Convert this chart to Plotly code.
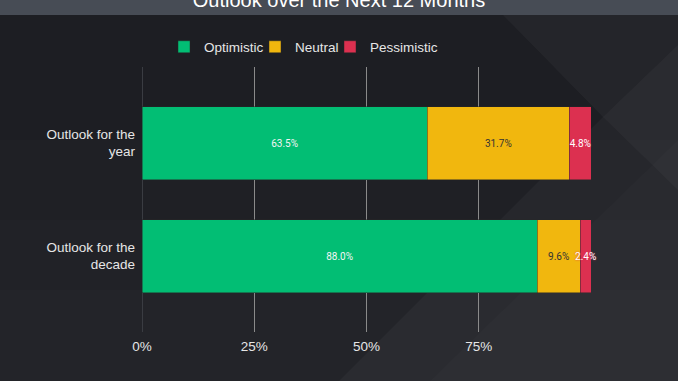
import plotly.graph_objects as go

# ---- data ----
categories = ["Outlook for the<br>year", "Outlook for the<br>decade"]
optimistic = [63.5, 88.0]
neutral = [31.7, 9.6]
pessimistic = [4.8, 2.4]
series_names = ["Optimistic", "Neutral", "Pessimistic"]
tick_vals = [0, 25, 50, 75, 100]
tick_text = ["0%", "25%", "50%", "75%", ""]
title_text = "Outlook over the Next 12 Months"

# ---- layout geometry (pixels) ----
W, H = 678, 381
L, R, T, B = 142, 591, 67, 332


def px(x):
    return (x - L) / (R - L)


def py(y):
    return (B - y) / (B - T)


def poly(points, color):
    d = "M " + " L ".join(f"{px(x):.4f},{py(y):.4f}" for x, y in points) + " Z"
    return dict(type="path", xref="paper", yref="paper", path=d,
                fillcolor=color, line=dict(width=0), layer="below")


shapes = [
    # vertical shading (fake gradient)
    poly([(0, 140), (W, 140), (W, H), (0, H)], "rgba(255,255,255,0.012)"),
    poly([(0, 220), (W, 220), (W, H), (0, H)], "rgba(255,255,255,0.012)"),
    poly([(0, 290), (W, 290), (W, H), (0, H)], "rgba(255,255,255,0.012)"),
    # large lighter region on the right
    poly([(503, 15), (W, 15), (W, H), (339, H), (603, 117)], "rgba(255,255,255,0.035)"),
    # chevron / diamond on the right
    poly([(603, 117), (W, 45), (W, 190)], "rgba(255,255,255,0.03)"),
    poly([(430, H), (W, 140), (W, H)], "rgba(255,255,255,0.015)"),
    # title bar
    poly([(0, -5), (W, -5), (W, 15), (0, 15)], "#474c55"),
]

colors = ["#02BE74", "#F1B70E", "#DC3050"]
label_colors = ["#f4f4f4", "#333333", "#ffffff"]
legend_ids = ["legend", "legend2", "legend3"]
legend_x = [182, 273, 348]  # symbol centres (px)

fig = go.Figure()
for name, vals, col, lcol, lid in zip(series_names, [optimistic, neutral, pessimistic],
                                      colors, label_colors, legend_ids):
    tf = dict(family="Roboto, Arial", size=10, color=lcol)
    if name == "Pessimistic":
        tf["shadow"] = "0px 0px 2px #e0305a"
    fig.add_trace(go.Bar(
        y=categories, x=vals, name=name, orientation="h", legend=lid,
        marker=dict(color=col, line=dict(color="rgba(40,40,40,0.6)", width=0.8)),
        texttemplate="%{x:.1f}%", textposition="inside", insidetextanchor="middle",
        textangle=0, constraintext="none", insidetextfont=tf, cliponaxis=False,
        hoverinfo="skip",
    ))

legend_common = dict(orientation="h", xref="container", yref="container",
                     xanchor="left", y=1 - 47 / H, yanchor="middle",
                     font=dict(size=13.5, color="#e6e6e6"), bgcolor="rgba(0,0,0,0)",
                     itemclick=False)
legends = {}
for lid, sx in zip(legend_ids, legend_x):
    legends[lid] = dict(legend_common, x=(sx - 18) / W)

fig.update_layout(
    width=W, height=H,
    barmode="stack", bargap=0.354,
    paper_bgcolor="#1d1e23", plot_bgcolor="rgba(0,0,0,0)",
    margin=dict(l=L, r=W - R, t=T, b=H - B, pad=0, autoexpand=False),
    font=dict(family="Liberation Sans, Arial, sans-serif", size=13.5, color="#e6e6e6"),
    title=dict(text=title_text, x=0.5, xref="container", xanchor="center",
               y=1.0, yref="container", yanchor="middle",
               font=dict(size=20, color="#ffffff")),
    showlegend=True,
    xaxis=dict(range=[0, 100], tickvals=tick_vals, ticktext=tick_text,
               showgrid=True, gridcolor="#8a8a8a", gridwidth=1,
               zeroline=True, zerolinecolor="#3a3c42", zerolinewidth=1,
               showline=False, ticks="", ticklabelstandoff=4,
               tickfont=dict(size=13.5, color="#e6e6e6")),
    yaxis=dict(range=[0.5 + (B - T) / 2 / 113, 0.5 - (B - T) / 2 / 113],
               showgrid=False, zeroline=False, showline=False, ticks="",
               ticklabelstandoff=6, tickfont=dict(size=13.5, color="#e6e6e6")),
    shapes=shapes,
    **legends,
)

fig.write_html("out.html", config={"displayModeBar": False},
               post_script="document.body.style.margin='0';document.body.style.background='#1d1e23';")
